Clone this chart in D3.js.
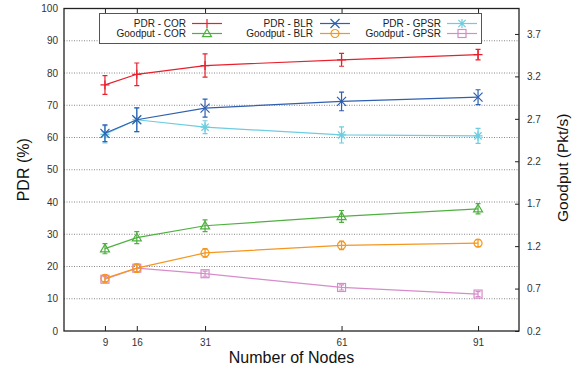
<!DOCTYPE html>
<html>
<head>
<meta charset="utf-8">
<script src="https://cdn.jsdelivr.net/npm/d3@7"></script>
<style>
  body { margin: 0; background: #fff; }
  svg { display: block; font-family: "Liberation Sans", Arial, sans-serif; }
</style>
</head>
<body>
<svg id="chart" width="580" height="368"></svg>
<script>
// number of nodes on the x axis
const nodes = [9, 16, 31, 61, 91];

// PDR series (left axis, %), with error half-widths
const pdrCor = [76.3, 79.6, 82.3, 84.1, 85.7];
const pdrCorErr = [2.9, 3.5, 3.6, 2.0, 1.6];
const pdrBlr = [61.3, 65.5, 69.1, 71.2, 72.5];
const pdrBlrErr = [2.6, 3.7, 2.8, 2.9, 2.3];
const pdrGpsr = [61.0, 65.5, 63.2, 60.8, 60.5];
const pdrGpsrErr = [2.7, 3.7, 2.0, 2.5, 2.3];

// Goodput series (right axis, Pkt/s)
const gpCor = [1.17, 1.30, 1.44, 1.55, 1.64];
const gpCorErr = [0.06, 0.07, 0.07, 0.07, 0.06];
const gpBlr = [0.82, 0.94, 1.12, 1.21, 1.235];
const gpBlrErr = [0.04, 0.05, 0.05, 0.05, 0.04];
const gpGpsr = [0.81, 0.94, 0.875, 0.713, 0.635];
const gpGpsrErr = [0.03, 0.04, 0.03, 0.03, 0.03];

const leftTicks = [0, 10, 20, 30, 40, 50, 60, 70, 80, 90, 100];
const rightTicks = [0.2, 0.7, 1.2, 1.7, 2.2, 2.7, 3.2, 3.7];

const svg = d3.select('#chart');
const m = { left: 64, right: 519, top: 8.5, bottom: 331 };

const x = d3.scaleLinear().domain([0, 100]).range([m.left, m.right]);
const yL = d3.scaleLinear().domain([0, 100]).range([m.bottom, m.top]);
const yR = d3.scaleLinear().domain([0.2, 4.0]).range([m.bottom, m.top]);

// dotted grid
svg.append('g')
  .selectAll('line')
  .data(leftTicks.filter(d => d > 0 && d < 100))
  .enter().append('line')
  .attr('x1', m.left).attr('x2', m.right)
  .attr('y1', d => yL(d)).attr('y2', d => yL(d))
  .attr('stroke', '#888').attr('stroke-width', 1)
  .attr('stroke-dasharray', '1,1.5');

// left axis
const gL = svg.append('g').attr('transform', `translate(${m.left},0)`)
  .call(d3.axisLeft(yL).tickValues(leftTicks).tickSize(0).tickPadding(6));
// right axis
const gR = svg.append('g').attr('transform', `translate(${m.right},0)`)
  .call(d3.axisRight(yR).tickValues(rightTicks).tickSizeInner(-4).tickSizeOuter(0).tickPadding(8).tickFormat(d3.format('.1f')));
// bottom axis
const gB = svg.append('g').attr('transform', `translate(0,${m.bottom})`)
  .call(d3.axisBottom(x).tickValues(nodes).tickSizeInner(-5).tickSizeOuter(0).tickPadding(8));
// top mirror ticks
const gT = svg.append('g').attr('transform', `translate(0,${m.top})`)
  .call(d3.axisTop(x).tickValues(nodes).tickSizeInner(-5).tickSizeOuter(0).tickFormat(''));

[gL, gR, gB, gT].forEach(g => {
  g.select('.domain').remove();
  g.selectAll('.tick line').attr('stroke', '#222');
  g.selectAll('.tick text').attr('fill', '#333').style('font-size', '10px')
    .style('font-family', '"Liberation Sans", Arial, sans-serif');
});

// frame
svg.append('rect')
  .attr('x', m.left).attr('y', m.top)
  .attr('width', m.right - m.left).attr('height', m.bottom - m.top)
  .attr('fill', 'none').attr('stroke', '#222').attr('stroke-width', 1.3);

// axis titles
svg.append('text').attr('transform', `translate(29,${(m.top + m.bottom) / 2}) rotate(-90)`)
  .attr('text-anchor', 'middle').style('font-size', '16px').attr('fill', '#111').text('PDR (%)');
svg.append('text').attr('transform', `translate(568,${(m.top + m.bottom) / 2 - 2}) rotate(-90)`)
  .attr('text-anchor', 'middle').style('font-size', '15.5px').attr('fill', '#111').text('Goodput (Pkt/s)');
svg.append('text').attr('x', x(50)).attr('y', 363)
  .attr('text-anchor', 'middle').style('font-size', '16px').attr('fill', '#111').text('Number of Nodes');

// markers
function marker(g, type, color) {
  const s = 4.5;
  if (type === 'plus') {
    g.append('path').attr('d', `M${-s},0H${s}M0,${-s}V${s}`);
  } else if (type === 'cross') {
    g.append('path').attr('d', `M${-s},${-s}L${s},${s}M${-s},${s}L${s},${-s}`);
  } else if (type === 'star') {
    g.append('path').attr('d', `M${-s},0H${s}M0,${-s}V${s}M${-s*0.8},${-s*0.8}L${s*0.8},${s*0.8}M${-s*0.8},${s*0.8}L${s*0.8},${-s*0.8}`);
  } else if (type === 'triangle') {
    g.append('path').attr('d', `M0,${-s}L${s},${s*0.7}L${-s},${s*0.7}Z`).attr('fill', 'none');
  } else if (type === 'circle') {
    g.append('circle').attr('r', 4).attr('fill', 'none');
  } else if (type === 'square') {
    g.append('rect').attr('x', -4).attr('y', -4).attr('width', 8).attr('height', 8).attr('fill', 'none');
  }
  g.selectAll('path,circle,rect').attr('stroke', color).attr('stroke-width', 1.2);
}

const series = [
  { name: 'PDR - COR', vals: pdrCor, err: pdrCorErr, y: yL, color: '#e8202c', m: 'plus' },
  { name: 'Goodput - COR', vals: gpCor, err: gpCorErr, y: yR, color: '#4fb040', m: 'triangle' },
  { name: 'PDR - BLR', vals: pdrBlr, err: pdrBlrErr, y: yL, color: '#2f5fae', m: 'cross' },
  { name: 'Goodput - BLR', vals: gpBlr, err: gpBlrErr, y: yR, color: '#f5961e', m: 'circle' },
  { name: 'PDR - GPSR', vals: pdrGpsr, err: pdrGpsrErr, y: yL, color: '#6ccde0', m: 'star' },
  { name: 'Goodput - GPSR', vals: gpGpsr, err: gpGpsrErr, y: yR, color: '#d68ccb', m: 'square' }
];

const drawOrder = [4, 5, 2, 3, 1, 0];
drawOrder.forEach(i => {
  const s = series[i];
  const g = svg.append('g');
  const pts = nodes.map((n, k) => ({ n, v: s.vals[k], e: s.err[k] }));
  g.append('path').datum(pts)
    .attr('d', d3.line().x(d => x(d.n)).y(d => s.y(d.v)))
    .attr('fill', 'none').attr('stroke', s.color).attr('stroke-width', 1.2);
  pts.forEach(p => {
    const cx = x(p.n), y0 = s.y(p.v - p.e), y1 = s.y(p.v + p.e);
    g.append('path')
      .attr('d', `M${cx},${y0}V${y1}M${cx - 2.5},${y0}H${cx + 2.5}M${cx - 2.5},${y1}H${cx + 2.5}`)
      .attr('stroke', s.color).attr('stroke-width', 1.2).attr('fill', 'none');
    marker(g.append('g').attr('transform', `translate(${cx},${s.y(p.v)})`), s.m, s.color);
  });
});

// legend
const lg = svg.append('g');
lg.append('rect').attr('x', 99.5).attr('y', 13.5).attr('width', 382).attr('height', 30)
  .attr('fill', '#fff').attr('stroke', '#555').attr('stroke-width', 1);
const cols = [{ tx: 186, lx: 192 }, { tx: 313, lx: 320 }, { tx: 441, lx: 447 }];
series.forEach((s, i) => {
  const c = cols[Math.floor(i / 2)];
  const yy = i % 2 === 0 ? 23.5 : 33.5;
  lg.append('text').attr('x', c.tx).attr('y', yy + 3.5)
    .attr('text-anchor', 'end').style('font-size', '10px').attr('fill', '#222').text(s.name);
  lg.append('line').attr('x1', c.lx).attr('x2', c.lx + 30).attr('y1', yy).attr('y2', yy)
    .attr('stroke', s.color).attr('stroke-width', 1.2);
  marker(lg.append('g').attr('transform', `translate(${c.lx + 15},${yy})`), s.m, s.color);
});
</script>
</body>
</html>
